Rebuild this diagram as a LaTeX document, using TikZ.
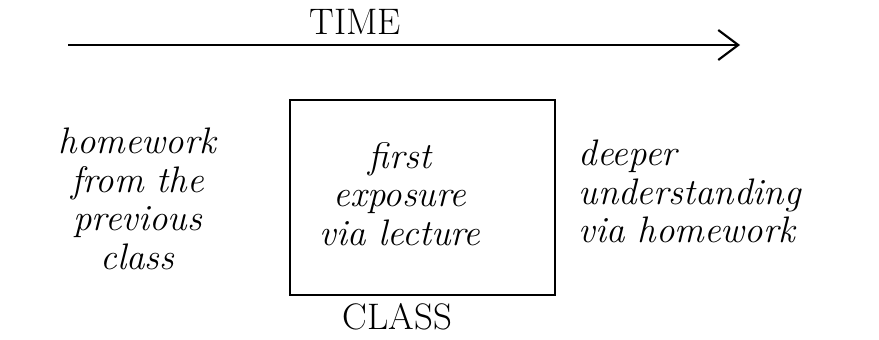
\documentclass[tikz,border=0pt]{standalone}
\usetikzlibrary{positioning,arrows.meta}
\tikzset{
  note/.style={font=\fontsize{21}{22}\selectfont\itshape},
  caps/.style={font=\fontsize{21}{24}\selectfont}
}
\begin{document}
\begin{tikzpicture}
  \useasboundingbox (0,0) rectangle (17.58,6.78);
  % time axis
  \coordinate (tstart) at (1.36,5.88);
  \coordinate (tend) at (14.8,5.88);
  \draw[-{Straight Barb[length=4mm,width=6mm]},very thick] (tstart)--(tend);
  \node[caps] (time) at (7.1,6.35) {TIME};
  % the class itself
  \node[draw,very thick,minimum width=5.3cm,minimum height=3.9cm] (class) at (8.45,2.83) {};
  \node[note,align=center] (lecture) at (8.0,2.9) {first\\exposure\\via lecture};
  \node[caps,below=0.02cm of class,xshift=-0.5cm] (classlbl) {CLASS};
  % before and after
  \node[note,align=center] (before) at (2.75,2.8) {homework\\from the\\previous\\class};
  \node[note,align=left,anchor=west] (after) at (11.45,2.95) {deeper\\understanding\\via homework};
\end{tikzpicture}
\end{document}
